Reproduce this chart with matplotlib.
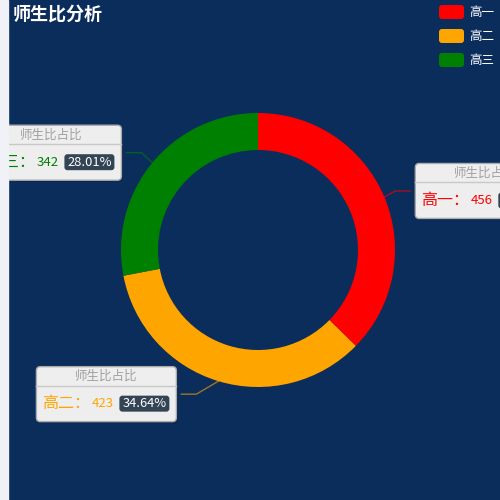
import numpy as np
import matplotlib.pyplot as plt
from matplotlib.patches import FancyBboxPatch, Rectangle

plt.rcParams['font.family'] = ['Noto Sans CJK SC', 'DejaVu Sans']

# data
grades = ['高一', '高二', '高三']
counts = [456, 423, 342]
colors = ['#ff0000', '#ffa500', '#008000']
title = '师生比分析'
box_title = '师生比占比'

# layout (pixels), donut geometry and label leader offsets
W = H = 500
cx, cy = 258, 250
r_out, r_in = 137, 100
lead1 = [(11, -6), (-22, 13), (-11, -10)]   # first leader segment
lead2 = [15, -15, -15]                        # horizontal segment
box_w, box_h = 140, 55

bg = '#0b2d5c'
fig = plt.figure(figsize=(5, 5), dpi=100)
fig.patch.set_facecolor(bg)

# donut
axp = fig.add_axes([(cx - 150) / W, (H - cy - 150) / H, 300 / W, 300 / H])
axp.pie(counts, colors=colors, startangle=90, counterclock=False, radius=r_out,
        wedgeprops=dict(width=r_out - r_in, edgecolor='none'))
axp.set_xlim(-150, 150)
axp.set_ylim(-150, 150)
axp.set_aspect('equal')
axp.axis('off')

# overlay in pixel coords
ax = fig.add_axes([0, 0, 1, 1], zorder=3)
ax.set_xlim(0, W)
ax.set_ylim(H, 0)
ax.axis('off')
ax.patch.set_alpha(0)

ax.add_patch(Rectangle((0, 0), 8, H, color='#f0f2f8', zorder=10))
ax.text(13, 14, title, color='white', fontsize=13, fontweight='bold',
        va='center', ha='left')

# legend
for i, (g, c) in enumerate(zip(grades, colors)):
    y = 5 + i * 24
    ax.add_patch(FancyBboxPatch((439, y), 25, 14, boxstyle='round,pad=0,rounding_size=3',
                                fc=c, ec='none'))
    ax.text(469, y + 7.5, g, color='white', fontsize=9, va='center', ha='left')

# labels
total = sum(counts)
cum = np.cumsum([0] + counts[:-1])
for i, (g, v, c) in enumerate(zip(grades, counts, colors)):
    ang = np.deg2rad(360 * (cum[i] + v / 2) / total)
    x0 = cx + r_out * np.sin(ang)
    y0 = cy - r_out * np.cos(ang)
    x1, y1 = x0 + lead1[i][0], y0 + lead1[i][1]
    x2 = x1 + lead2[i]
    ax.plot([x0, x1, x2], [y0, y1, y1], color=c, lw=1, alpha=0.6, zorder=2)
    left = x2 + 5 if lead2[i] > 0 else x2 - 5 - box_w
    top = y1 - box_h / 2
    ax.add_patch(FancyBboxPatch((left + 1.5, top + 1.5), box_w, box_h,
                                boxstyle='round,pad=0,rounding_size=4',
                                fc='black', ec='none', alpha=0.15, zorder=3))
    ax.add_patch(FancyBboxPatch((left, top), box_w, box_h,
                                boxstyle='round,pad=0,rounding_size=4',
                                fc='#eeeeee', ec='#aaaaaa', lw=1, zorder=4))
    ax.plot([left, left + box_w], [top + 19, top + 19], color='#c8c8c8', lw=1, zorder=5)
    ax.text(left + box_w / 2, top + 10, box_title, color='#a0a0a0', fontsize=9,
            ha='center', va='center', zorder=6)
    row = top + 37
    ax.text(left + 6, row, g + '：', color=c, fontsize=11.5, ha='left', va='center', zorder=6)
    ax.text(left + 55, row, str(v), color=c, fontsize=9.5, ha='left', va='center', zorder=6)
    ax.add_patch(FancyBboxPatch((left + 83, row - 8), 50, 16,
                                boxstyle='round,pad=0,rounding_size=3',
                                fc='#334455', ec='none', zorder=6))
    ax.text(left + 83 + 25, row, '%.2f%%' % (100 * v / total), color='white',
            fontsize=9.3, ha='center', va='center', zorder=7)

fig.savefig('out.png', dpi=100, facecolor=bg)
